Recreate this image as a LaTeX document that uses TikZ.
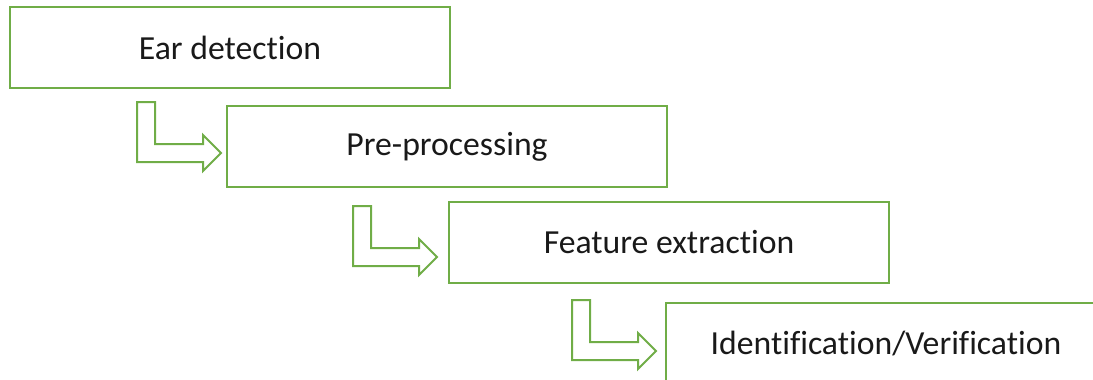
\documentclass[tikz,border=0pt]{standalone}
\usepackage{fontspec}
\setmainfont[Ligatures={NoCommon}]{Carlito}
\definecolor{stepgreen}{HTML}{70AD47}
\begin{document}
\begin{tikzpicture}[x=1pt,y=-1pt,
  stagebox/.style={draw=stepgreen,line width=2pt,rectangle,anchor=north west,
    minimum width=440pt,minimum height=81pt,inner sep=0pt,outer sep=0pt,
    font=\fontsize{33.7}{38}\selectfont,text=black!90},
  bentarrow/.style={draw=stepgreen,line width=2pt,line join=miter,fill=white}]
  \useasboundingbox (0,0) rectangle (1093,380);

  % the four processing stages, stepping down to the right
  \node[stagebox] (det)  at (10,7)    {Ear detection};
  \node[stagebox] (pre)  at (227,106) {Pre-processing};
  \node[stagebox] (feat) at (449,202) {Feature extraction};
  \node[stagebox] (ident) at (666,303) {Identification/Verification};

  % hollow bent arrows leading from one stage to the next
  \foreach \from/\dx/\dy in {det/127/14, pre/126/19, feat/123/17}{
    \draw[bentarrow] ([shift={(\dx,\dy)}]\from.south west)
      -- ++(18,0) -- ++(0,42) -- ++(48,0) -- ++(0,-9)
      -- ++(18,18) -- ++(-18,18) -- ++(0,-9) -- ++(-66,0) -- cycle;
  }
\end{tikzpicture}
\end{document}
